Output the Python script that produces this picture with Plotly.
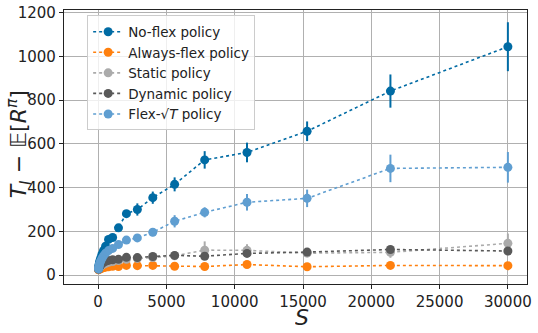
import plotly.graph_objects as go

# sample sizes (x)
s_vals = [30000, 21400, 15300, 10900, 7800, 5600, 4000, 2870, 2070, 1490, 1060,
          760, 545, 390, 280, 200, 143, 102, 73, 52, 37, 27]

no_flex = [1045, 842, 658, 561, 527, 415, 354, 300, 281, 216, 172,
           163, 132, 112, 95, 80, 68, 58, 50, 42, 36, 30]
no_flex_err = [112, 76, 45, 45, 40, 32, 28, 28, 15, 16, 14,
               12, 10, 9, 8, 7, 6, 5, 5, 4, 4, 3]

always_flex = [43, 44, 38, 48, 39, 40, 44, 43, 44, 39, 40,
               38, 36, 34, 32, 30, 29, 28, 27, 26, 25, 24]
always_flex_err = [5, 5, 4, 5, 4, 4, 4, 4, 4, 4, 4,
                   3, 3, 3, 3, 3, 3, 2, 2, 2, 2, 2]

static = [145, 104, 100, 113, 114, 88, 80, 76, 72, 66, 62,
          58, 54, 50, 46, 42, 39, 36, 33, 30, 28, 26]
static_err = [45, 25, 15, 28, 40, 12, 10, 9, 8, 7, 6,
              6, 5, 5, 4, 4, 4, 3, 3, 3, 3, 2]

dynamic = [110, 117, 105, 99, 86, 90, 85, 80, 81, 72, 70,
           67, 63, 58, 53, 48, 44, 40, 36, 33, 30, 27]
dynamic_err = [8, 15, 10, 8, 7, 7, 6, 6, 6, 5, 5,
               5, 4, 4, 4, 3, 3, 3, 3, 2, 2, 2]

flex_sqrt = [493, 488, 351, 333, 287, 246, 196, 170, 160, 140, 122,
             112, 100, 88, 76, 66, 58, 50, 43, 37, 32, 28]
flex_sqrt_err = [70, 63, 40, 38, 23, 28, 18, 14, 10, 12, 10,
                 9, 8, 7, 6, 5, 5, 4, 4, 3, 3, 3]

x_ticks = [0, 5000, 10000, 15000, 20000, 25000, 30000]
y_ticks = [0, 200, 400, 600, 800, 1000, 1200]

series = [
    ("No-flex policy", no_flex, no_flex_err, "#006BA4"),
    ("Always-flex policy", always_flex, always_flex_err, "#FF800E"),
    ("Static policy", static, static_err, "#ABABAB"),
    ("Dynamic policy", dynamic, dynamic_err, "#595959"),
    ("Flex-√<i>T</i> policy", flex_sqrt, flex_sqrt_err, "#5F9ED1"),
]

fig = go.Figure()
for name, ys, errs, color in series:
    fig.add_trace(go.Scatter(
        x=s_vals, y=ys, name=name, mode="lines+markers",
        line=dict(color=color, width=1.6, dash="dot"),
        marker=dict(color=color, size=9),
        error_y=dict(type="data", array=errs, color=color, thickness=2, width=0),
    ))

axis_common = dict(
    showgrid=True, gridcolor="#b0b0b0", gridwidth=1,
    showline=True, linecolor="#222", linewidth=1.2, mirror=True,
    ticks="outside", ticklen=4, tickcolor="#222",
    tickfont=dict(size=15, color="#222"), zeroline=False,
    automargin=False, tickformat="d", ticklabeloverflow="allow",
)

fig.update_layout(
    width=538, height=333,
    margin=dict(l=64, r=11, t=10, b=49),
    paper_bgcolor="white", plot_bgcolor="white",
    font=dict(family="DejaVu Sans", color="#222"),
    showlegend=True,
    legend=dict(
        x=0.05, y=0.98, xanchor="left", yanchor="top",
        bgcolor="rgba(255,255,255,0.8)", bordercolor="#cccccc", borderwidth=1,
        font=dict(size=13.5), tracegroupgap=0, itemwidth=30,
    ),
    xaxis=dict(axis_common, range=[-2500, 31400], tickvals=x_ticks),
    yaxis=dict(axis_common, range=[-41, 1213], tickvals=y_ticks),
)

fig.add_annotation(text="<i>S</i>", xref="paper", yref="paper", x=0.514, y=-0.069,
                   xanchor="center", yanchor="top", height=24, valign="middle",
                   showarrow=False, font=dict(size=22, color="#222"))
fig.add_annotation(text="<i>T<sub>I</sub></i> − 𝔼[<i>R<sup>π</sup></i>]",
                   xref="paper", yref="paper", x=-0.097, y=0.51, textangle=-90,
                   xanchor="center", yanchor="middle", showarrow=False,
                   font=dict(size=22, color="#222"))

# drop the default 8px body margin so the figure sits at the page corner
fig.write_html("out.html", config={"displayModeBar": False},
               post_script="document.body.style.margin='0';")
